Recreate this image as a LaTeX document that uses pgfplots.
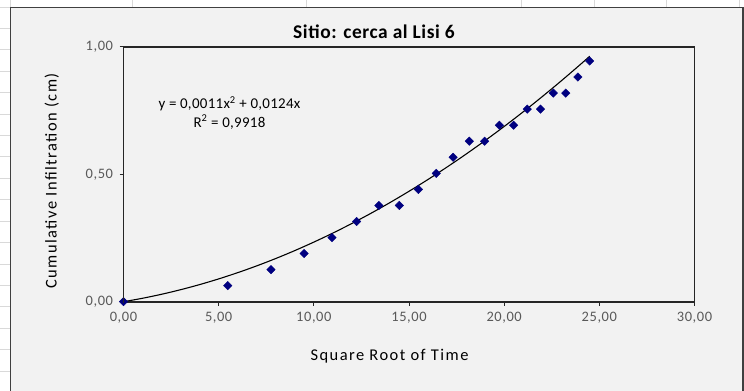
\documentclass[border=0pt]{standalone}
\usepackage{pgfplots}
\pgfplotsset{compat=1.18}
\usepackage{fontspec}
\setmainfont{Carlito}

\definecolor{chartbg}{HTML}{F2F2F2}
\definecolor{cellline}{HTML}{D9D9D9}
\definecolor{chartframe}{HTML}{404040}
\definecolor{plotframe}{HTML}{262626}
\definecolor{markblue}{HTML}{000080}
\definecolor{ticktext}{HTML}{595959}

% Infiltration readings: square root of time vs cumulative infiltration (cm)
\pgfplotstableread{
x       y
0       0
5.477   0.063
7.746   0.126
9.487   0.189
10.954  0.252
12.247  0.315
13.416  0.378
14.491  0.378
15.492  0.441
16.432  0.504
17.321  0.567
18.166  0.630
18.974  0.630
19.748  0.693
20.494  0.693
21.213  0.756
21.909  0.756
22.583  0.819
23.238  0.819
23.875  0.882
24.495  0.945
}\infiltration

% Polynomial trendline y = 0.0011x^2 + 0.0124x, tabulated
\pgfplotstableread{
x       y
0       0
1       0.0135
2       0.0292
3       0.0471
4       0.0672
5       0.0895
6       0.1140
7       0.1407
8       0.1696
9       0.2007
10      0.2340
11      0.2695
12      0.3072
13      0.3471
14      0.3892
15      0.4335
16      0.4800
17      0.5287
18      0.5796
19      0.6327
20      0.6880
21      0.7455
22      0.8052
23      0.8671
24      0.9312
24.495  0.9638
}\trend

\newcommand\ticksfont{\fontsize{14.5}{14.5}\selectfont\addfontfeatures{LetterSpace=4}}
\newcommand\labelfont{\fontsize{16.5}{16.5}\selectfont\addfontfeatures{LetterSpace=9}}
\newcommand\titlefont{\bfseries\fontsize{19.5}{19.5}\selectfont\addfontfeatures{LetterSpace=3}}
\newcommand\eqfont{\fontsize{15}{15}\selectfont\addfontfeatures{LetterSpace=2}}

\begin{document}
\begin{tikzpicture}
\begin{scope}[x=1bp,y=1bp]
\useasboundingbox (0,0) rectangle (744,390);
\fill[white] (0,0) rectangle (744,390);
% worksheet cell lines around the chart object
\foreach \k in {0,...,17}
  \draw[cellline, line width=0.8] (0,{383.1-21.42*\k}) -- (11,{383.1-21.42*\k});
\foreach \xx in {10,132,306,521,594,666,739}
  \draw[cellline, line width=0.8] (\xx,382) -- (\xx,390);
% chart area
\filldraw[fill=chartbg, draw=chartframe, line width=1.8] (10.5,-3) rectangle (743,382.5);
\end{scope}

\begin{axis}[
  at={(123.5bp,88.3bp)}, anchor=south west,
  scale only axis, width=571bp, height=254.7bp,
  xmin=0, xmax=30, ymin=0, ymax=1,
  xtick={0,5,...,30}, ytick={0,0.5,1},
  tick align=outside, xtick pos=left, ytick pos=left,
  major tick length=4bp,
  axis line style={line width=1.6, draw=plotframe},
  tick style={line width=1, draw=plotframe},
  tick label style={font=\ticksfont, text=ticktext},
  yticklabel style={xshift=-3bp},
  xticklabel style={yshift=-3bp},
  /pgf/number format/.cd, fixed, fixed zerofill, precision=2, use comma,
  assume math mode=true,
]
\addplot[black, line width=1.1, smooth, no marks] table[x=x, y=y] {\trend};
\addplot[only marks, mark=square*, mark size=3, mark options={rotate=45, fill=markblue, draw=markblue}] table[x=x, y=y] {\infiltration};
\end{axis}

\begin{scope}[x=1bp,y=1bp]
% side edges of the plot area, as thin filled bars
\fill[plotframe] (122.7,87.5) rectangle (124.3,343.8);
\fill[plotframe] (693.7,87.5) rectangle (695.3,343.8);
\node[anchor=base, font=\titlefont] at (374,352) {Sitio: cerca al Lisi 6};
\node[rotate=90, font=\labelfont] at (51.7,209) {Cumulative Infiltration (cm)};
\node[anchor=base, font=\labelfont] at (389.5,30) {Square Root of Time};
\node[font=\eqfont] at (229.5,286) {y = 0,0011x\textsuperscript{2} + 0,0124x};
\node[font=\eqfont] at (229.5,268) {R\textsuperscript{2} = 0,9918};
\end{scope}
\end{tikzpicture}
\end{document}
